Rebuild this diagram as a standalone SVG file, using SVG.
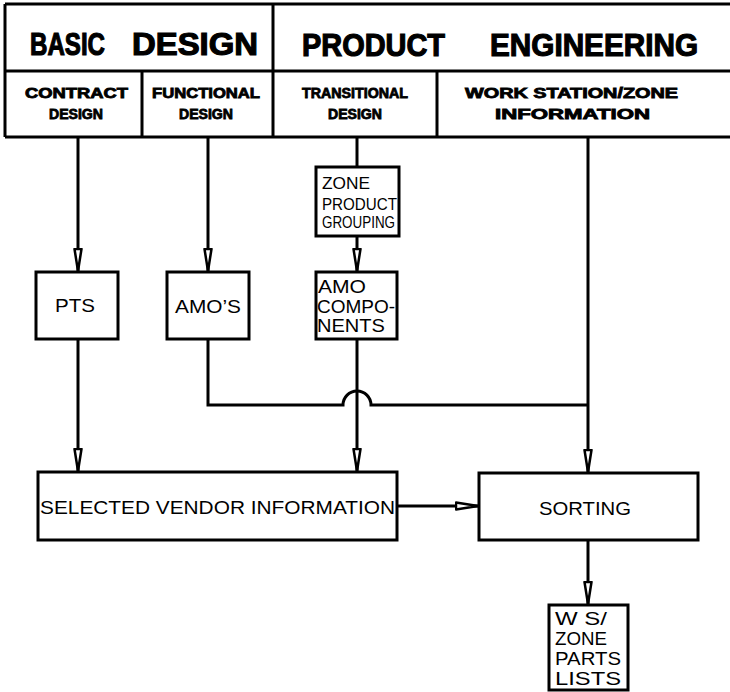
<svg xmlns="http://www.w3.org/2000/svg" width="730" height="692" viewBox="0 0 730 692">
<style>
.ln{stroke:#000;stroke-width:3;fill:none}
.box{stroke:#000;stroke-width:3;fill:#fff}
.h1{font-family:"Liberation Sans",Arial,sans-serif;font-weight:700;font-size:32px;fill:#000;stroke:#000;stroke-width:1.2}
.h2{font-family:"Liberation Sans",Arial,sans-serif;font-weight:700;font-size:14px;fill:#000;stroke:#000;stroke-width:0.8}
.t{font-family:"Liberation Sans",Arial,sans-serif;font-size:19px;fill:#000}
.s{font-family:"Liberation Sans",Arial,sans-serif;font-size:17px;fill:#000}
</style>
<defs>
<marker id="ah" viewBox="0 0 24 10" refX="23" refY="5" markerWidth="24" markerHeight="10" markerUnits="userSpaceOnUse" orient="auto">
<path d="M1,1.5 L1,8.5 L23,5 Z" fill="#fff" stroke="#000" stroke-width="2.5" stroke-linejoin="round"/>
</marker>
</defs>
<rect width="730" height="692" fill="#fff"/>
<g id="header">
<path class="ln" d="M5,4 H730 M5,71 H730 M5,137 H730 M5,4 V137 M273,4 V137 M142,71 V137 M437,71 V137"/>
<text class="h1" x="30" y="55" textLength="75" lengthAdjust="spacingAndGlyphs">BASIC</text>
<text class="h1" x="132" y="55" textLength="126" lengthAdjust="spacingAndGlyphs">DESIGN</text>
<text class="h1" x="302" y="56" textLength="143" lengthAdjust="spacingAndGlyphs">PRODUCT</text>
<text class="h1" x="490" y="56" textLength="208" lengthAdjust="spacingAndGlyphs">ENGINEERING</text>
<text class="h2" x="25" y="98" textLength="103" lengthAdjust="spacingAndGlyphs">CONTRACT</text>
<text class="h2" x="49" y="119" textLength="54" lengthAdjust="spacingAndGlyphs">DESIGN</text>
<text class="h2" x="152" y="98" textLength="108" lengthAdjust="spacingAndGlyphs">FUNCTIONAL</text>
<text class="h2" x="179" y="119" textLength="54" lengthAdjust="spacingAndGlyphs">DESIGN</text>
<text class="h2" x="302" y="98" textLength="106" lengthAdjust="spacingAndGlyphs">TRANSITIONAL</text>
<text class="h2" x="328" y="119" textLength="54" lengthAdjust="spacingAndGlyphs">DESIGN</text>
<text class="h2" x="465" y="98" textLength="213" lengthAdjust="spacingAndGlyphs">WORK STATION/ZONE</text>
<text class="h2" x="495" y="119" textLength="155" lengthAdjust="spacingAndGlyphs">INFORMATION</text>
</g>
<g id="connectors">
<path class="ln" d="M78,137 V271" marker-end="url(#ah)"/>
<path class="ln" d="M208,137 V271" marker-end="url(#ah)"/>
<path class="ln" d="M357,137 V167"/>
<path class="ln" d="M357,236 V271" marker-end="url(#ah)"/>
<path class="ln" d="M588,137 V472" marker-end="url(#ah)"/>
<path class="ln" d="M78,339 V471" marker-end="url(#ah)"/>
<path class="ln" d="M357,339 V471" marker-end="url(#ah)"/>
<path class="ln" d="M208,339 V405 H343 A14,14 0 0 1 371,405 H588"/>
<path class="ln" d="M397,506 H478" marker-end="url(#ah)"/>
<path class="ln" d="M588,540 V604" marker-end="url(#ah)"/>
</g>
<g id="zone-product-grouping">
<rect class="box" x="316" y="167" width="83" height="69"/>
<text class="s" x="322" y="189" textLength="48" lengthAdjust="spacingAndGlyphs">ZONE</text>
<text class="s" x="322" y="210" textLength="75" lengthAdjust="spacingAndGlyphs">PRODUCT</text>
<text class="s" x="322" y="228" font-size="14" textLength="73" lengthAdjust="spacingAndGlyphs">GROUPING</text>
</g>
<g id="pts">
<rect class="box" x="36" y="272" width="82" height="67"/>
<text class="t" x="55" y="312" textLength="40" lengthAdjust="spacingAndGlyphs">PTS</text>
</g>
<g id="amos">
<rect class="box" x="167" y="272" width="82" height="67"/>
<text class="t" x="175" y="313" textLength="66" lengthAdjust="spacingAndGlyphs">AMO’S</text>
</g>
<g id="amo-components">
<rect class="box" x="316" y="272" width="81" height="67"/>
<text class="t" x="318" y="293" textLength="48" lengthAdjust="spacingAndGlyphs">AMO</text>
<text class="t" x="317" y="313" textLength="78" lengthAdjust="spacingAndGlyphs">COMPO-</text>
<text class="t" x="317" y="332" textLength="68" lengthAdjust="spacingAndGlyphs">NENTS</text>
</g>
<g id="selected-vendor-information">
<rect class="box" x="38" y="472" width="359" height="68"/>
<text class="t" x="40" y="514" textLength="355" lengthAdjust="spacingAndGlyphs">SELECTED VENDOR INFORMATION</text>
</g>
<g id="sorting">
<rect class="box" x="479" y="473" width="219" height="67"/>
<text class="t" x="539" y="515" textLength="92" lengthAdjust="spacingAndGlyphs">SORTING</text>
</g>
<g id="ws-zone-parts-lists">
<rect class="box" x="549" y="605" width="79" height="85"/>
<text class="t" x="555" y="625" textLength="52" lengthAdjust="spacingAndGlyphs">W S/</text>
<text class="t" x="555" y="645" textLength="52" lengthAdjust="spacingAndGlyphs">ZONE</text>
<text class="t" x="555" y="665" textLength="66" lengthAdjust="spacingAndGlyphs">PARTS</text>
<text class="t" x="555" y="685" textLength="66" lengthAdjust="spacingAndGlyphs">LISTS</text>
</g>
</svg>
